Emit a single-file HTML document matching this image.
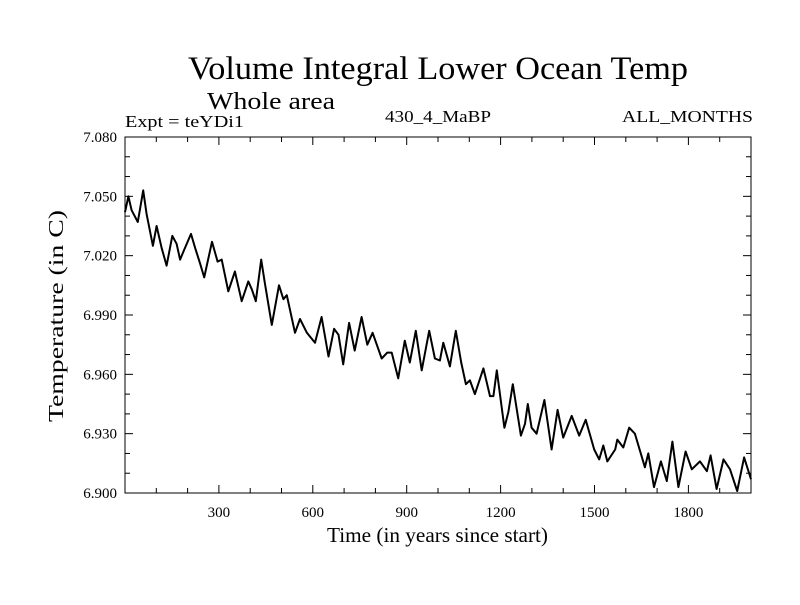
<!DOCTYPE html>
<html><head><meta charset="utf-8"><style>
body{margin:0;background:#fff;}
svg text{font-family:"Liberation Serif",serif;fill:#000;}
</style></head><body>
<svg id="chart" width="800" height="600" xmlns="http://www.w3.org/2000/svg">
<text x="188" y="79" font-size="33" textLength="500" lengthAdjust="spacingAndGlyphs">Volume Integral Lower Ocean Temp</text>
<text x="207" y="109" font-size="24" textLength="128" lengthAdjust="spacingAndGlyphs">Whole area</text>
<text x="125" y="127" font-size="17" textLength="119" lengthAdjust="spacingAndGlyphs">Expt = teYDi1</text>
<text x="385" y="122" font-size="17" textLength="106" lengthAdjust="spacingAndGlyphs">430_4_MaBP</text>
<text x="622" y="122" font-size="17" textLength="131" lengthAdjust="spacingAndGlyphs">ALL_MONTHS</text>
<text x="327" y="542" font-size="21" textLength="221" lengthAdjust="spacingAndGlyphs">Time (in years since start)</text>
<text transform="translate(63,422) rotate(-90)" font-size="21" textLength="212" lengthAdjust="spacingAndGlyphs">Temperature (in C)</text>
<g id="axes"></g>
<path id="series" fill="none" stroke="#000" stroke-width="2" stroke-linejoin="round"/>
<rect x="125" y="137" width="626" height="356" fill="none" stroke="#000" stroke-width="1"/>
</svg>
<script>
const years=[0,11,21,41,58,69,89,101,117,133,151,165,176,189,211,224,240,253,278,296,309,330,351,373,394,405,418,435,447,469,492,506,517,543,559,581,607,628,650,668,682,697,716,734,756,774,791,820,838,852,873,894,910,929,948,972,990,1006,1017,1038,1057,1074,1089,1102,1118,1145,1166,1177,1188,1212,1225,1239,1265,1278,1287,1299,1315,1340,1363,1382,1400,1427,1451,1472,1499,1515,1528,1541,1566,1573,1592,1611,1629,1661,1672,1690,1712,1731,1749,1768,1791,1811,1837,1859,1871,1890,1912,1933,1956,1978,2000];
const temps=[7.042,7.050,7.043,7.037,7.053,7.041,7.025,7.035,7.024,7.015,7.030,7.026,7.018,7.023,7.031,7.024,7.016,7.009,7.027,7.017,7.018,7.002,7.012,6.997,7.007,7.003,6.997,7.018,7.006,6.985,7.005,6.998,7.000,6.981,6.988,6.981,6.976,6.989,6.969,6.983,6.980,6.965,6.986,6.972,6.989,6.975,6.981,6.968,6.971,6.971,6.958,6.977,6.966,6.982,6.962,6.982,6.968,6.967,6.976,6.964,6.982,6.966,6.955,6.957,6.950,6.963,6.949,6.949,6.962,6.933,6.941,6.955,6.929,6.935,6.945,6.933,6.930,6.947,6.922,6.942,6.928,6.939,6.929,6.937,6.922,6.917,6.924,6.916,6.922,6.927,6.923,6.933,6.930,6.913,6.920,6.903,6.916,6.906,6.926,6.903,6.921,6.912,6.916,6.911,6.919,6.902,6.917,6.912,6.901,6.918,6.907];
const xTicks=[300,600,900,1200,1500,1800];
const xTickLabels=["300","600","900","1200","1500","1800"];
const yTicks=[6.900,6.930,6.960,6.990,7.020,7.050,7.080];
const yTickLabels=["6.900","6.930","6.960","6.990","7.020","7.050","7.080"];
const X0=125,X1=751,Y0=493,Y1=137,XMIN=0,XMAX=2000,YMIN=6.9,YMAX=7.08;
const sx=v=>X0+(v-XMIN)/(XMAX-XMIN)*(X1-X0);
const sy=v=>Y0-(v-YMIN)/(YMAX-YMIN)*(Y0-Y1);
const NS="http://www.w3.org/2000/svg";
const axes=document.getElementById('axes');
function line(x1,y1,x2,y2,name){
  const l=document.createElementNS(NS,'line');
  l.setAttribute('x1',x1);l.setAttribute('y1',y1);l.setAttribute('x2',x2);l.setAttribute('y2',y2);
  l.setAttribute('stroke','#000');l.setAttribute('stroke-width','1');
  
  
  axes.appendChild(l);
}
function text(x,y,s,anchor,name){
  const t=document.createElementNS(NS,'text');
  t.setAttribute('x',x);t.setAttribute('y',y);t.setAttribute('font-size','15');t.setAttribute('text-anchor',anchor);
  t.textContent=s;
  
  
  axes.appendChild(t);
}
for(let v=100;v<XMAX;v+=100){
  const x=sx(v), major=v%300===0, L=major?8:5;
  line(x,Y0,x,Y0-L,'x-tick');
  line(x,Y1,x,Y1+L,'x-tick-top');
}
xTicks.forEach((v,i)=>text(sx(v),517,xTickLabels[i],'middle','x-tick-label'));
for(let k=0;k<=18;k++){
  const v=YMIN+k*0.01, y=sy(v), major=k%3===0, L=major?8:5;
  line(X0,y,X0+L,y,'y-tick');
  line(X1,y,X1-L,y,'y-tick-right');
}
yTicks.forEach((v,i)=>text(117,sy(v)+5,yTickLabels[i],'end','y-tick-label'));
let d='';
years.forEach((v,i)=>{d+=(i?'L':'M')+sx(v).toFixed(1)+' '+sy(temps[i]).toFixed(1);});
document.getElementById('series').setAttribute('d',d);
</script>
</body></html>
